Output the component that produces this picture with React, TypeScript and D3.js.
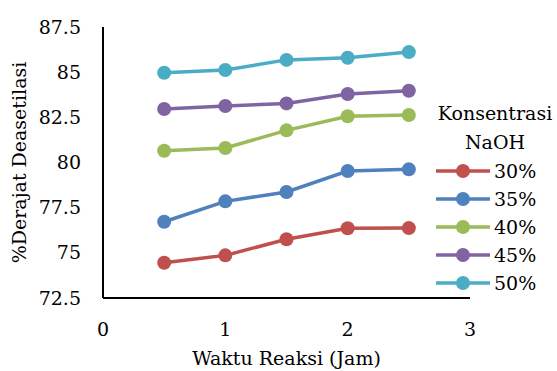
import * as d3 from "d3";

const times = [0.5, 1, 1.5, 2, 2.5];
const seriesNames = ["30%", "35%", "40%", "45%", "50%"];
const naoh30 = [74.45, 74.86, 75.75, 76.36, 76.37];
const naoh35 = [76.72, 77.85, 78.37, 79.53, 79.62];
const naoh40 = [80.65, 80.8, 81.78, 82.56, 82.63];
const naoh45 = [82.96, 83.13, 83.27, 83.79, 83.97];
const naoh50 = [84.97, 85.12, 85.68, 85.8, 86.11];
const xTicks = [0, 1, 2, 3];
const yTicks = [72.5, 75, 77.5, 80, 82.5, 85, 87.5];
const colors = ["#C0504D", "#4F81BD", "#9BBB59", "#8064A2", "#4BACC6"];

const allSeries = [naoh30, naoh35, naoh40, naoh45, naoh50];

export default function App() {
  const width = 557;
  const height = 371;
  const font = "'DejaVu Serif', serif";

  const x = d3.scaleLinear().domain([0, 3]).range([103, 470]);
  const y = d3.scaleLinear().domain([72.5, 87.5]).range([298, 27]);

  const line = d3
    .line<[number, number]>()
    .x((d) => x(d[0]))
    .y((d) => y(d[1]));

  const legendY = d3.scaleLinear().domain([0, 4]).range([171, 283]);

  return (
    <svg
      width={width}
      height={height}
      style={{ position: "absolute", left: 0, top: 0, background: "#fff", fontFamily: font }}
    >
      {/* axes */}
      <line x1={x(0)} x2={x(0)} y1={y(87.5)} y2={y(72.5)} stroke="#000" strokeWidth={2} />
      <line x1={x(0)} x2={x(3)} y1={y(72.5)} y2={y(72.5)} stroke="#000" strokeWidth={2} />

      {yTicks.map((t) => (
        <text key={t} x={x(0) - 22} y={y(t)} dy="0.35em" textAnchor="end" fontSize={19}>
          {t}
        </text>
      ))}
      {xTicks.map((t) => (
        <text key={t} x={x(t)} y={y(72.5) + 31} dy="0.35em" textAnchor="middle" fontSize={19}>
          {t}
        </text>
      ))}

      <text x={x(1.5)} y={365} textAnchor="middle" fontSize={19}>
        Waktu Reaksi (Jam)
      </text>
      <text
        transform={`translate(26,${y(80)}) rotate(-90)`}
        textAnchor="middle"
        fontSize={19}
      >
        %Derajat Deasetilasi
      </text>

      {allSeries.map((vals, i) => {
        const pts = times.map((t, j) => [t, vals[j]] as [number, number]);
        return (
          <g key={i}>
            <path d={line(pts) ?? ""} fill="none" stroke={colors[i]} strokeWidth={3.5} />
            {pts.map((p, j) => (
              <circle key={j} cx={x(p[0])} cy={y(p[1])} r={7} fill={colors[i]} />
            ))}
          </g>
        );
      })}

      {/* legend */}
      <text x={495} y={120} textAnchor="middle" fontSize={19}>
        Konsentrasi
      </text>
      <text x={495} y={149} textAnchor="middle" fontSize={19}>
        NaOH
      </text>
      {seriesNames.map((name, i) => (
        <g key={name} transform={`translate(0,${legendY(i)})`}>
          <line x1={436} x2={490} y1={0} y2={0} stroke={colors[i]} strokeWidth={3.5} />
          <circle cx={463} cy={0} r={7} fill={colors[i]} />
          <text x={494} y={0} dy="0.35em" fontSize={19}>
            {name}
          </text>
        </g>
      ))}
    </svg>
  );
}
